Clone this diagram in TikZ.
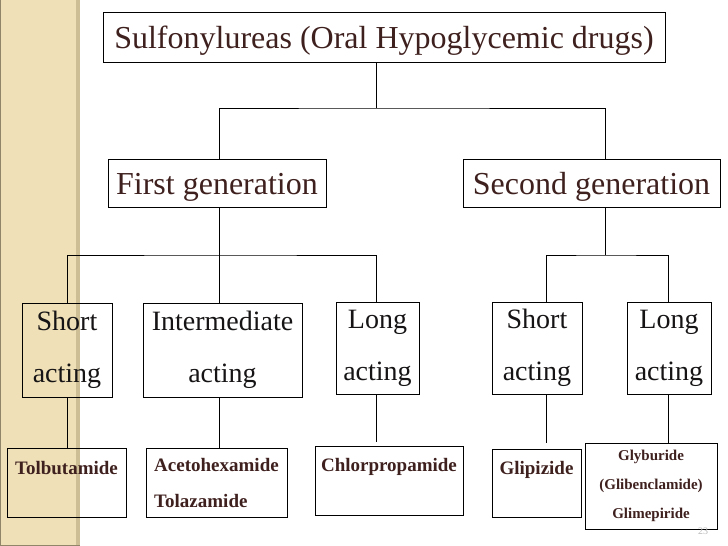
\documentclass[tikz,border=0pt]{standalone}
\usepackage{fontspec}
\setmainfont{Liberation Serif}
\usepackage{xcolor}
\definecolor{inkbrown}{RGB}{62,32,30}
\definecolor{inkblack}{RGB}{22,20,20}
\definecolor{stripbeige}{RGB}{239,224,184}
\definecolor{stripedge}{RGB}{206,190,150}

\begin{document}
\begin{tikzpicture}[
    x=1pt, y=-1pt,
    every node/.style={inner sep=0pt, outer sep=0pt},
    headbox/.style={draw, rectangle, line width=1pt, anchor=north west,
      text=inkbrown, font=\fontsize{32}{36}\selectfont},
    actbox/.style={draw, rectangle, line width=1pt, anchor=north west,
      align=center, text=inkblack, font=\fontsize{28}{52}\selectfont},
    drugbox/.style={draw, rectangle, line width=1pt, anchor=north west,
      align=left, text=inkbrown, font=\fontsize{19}{36}\selectfont\bfseries},
    link/.style={line width=1pt}
]
\useasboundingbox (0,0) rectangle (728,546);
\fill[stripbeige] (0,0) rectangle (80,546);
\fill[stripedge] (76,0) rectangle (80,546);
\draw[stripedge!70!black, line width=1pt] (0.5,0) -- (0.5,545.5) -- (80,545.5);

\node[headbox, minimum width=562pt, text height=36pt, text depth=14pt] (title) at (103,12) {Sulfonylureas (Oral Hypoglycemic drugs)};
\node[headbox, minimum width=218pt, text height=35pt, text depth=13pt] (first) at (108,159) {First generation};
\node[headbox, minimum width=257pt, text height=35pt, text depth=13pt] (second) at (463,159) {Second generation};

\node[actbox, minimum width=90pt, minimum height=94pt] (shortA) at (22,303) {Short\\acting};
\node[actbox, minimum width=159pt, minimum height=94pt] (interA) at (143,303) {Intermediate\\acting};
\node[actbox, minimum width=83pt, minimum height=92pt] (longA) at (336,302) {Long\\acting};
\node[actbox, minimum width=90pt, minimum height=92pt] (shortB) at (492,302) {Short\\acting};
\node[actbox, minimum width=84pt, minimum height=92pt] (longB) at (627,302) {Long\\acting};

\node[drugbox, minimum width=119pt, text height=26pt, text depth=43pt] (tolb) at (7,448) {Tolbutamide};
\node[drugbox, minimum width=141pt, minimum height=69pt] (aceto) at (146,448) {Acetohexamide\\Tolazamide};
\node[drugbox, minimum width=148pt, text height=25pt, text depth=44pt] (chlor) at (315,446) {Chlorpropamide};
\node[drugbox, minimum width=89pt, text height=25pt, text depth=43pt] (glip) at (492,449) {Glipizide};
\node[drugbox, align=center, font=\fontsize{15}{29}\selectfont\bfseries,
  minimum width=132pt, minimum height=86pt] (glyb) at (585,443) {Glyburide\\(Glibenclamide)\\Glimepiride};

\node[text=gray!55, font=\fontsize{10}{12}\selectfont] (pagenum) at (703,531) {23};

\coordinate (j0) at (376,108);
\coordinate (j1) at (219,255);
\coordinate (j2) at (605,255);
\coordinate (c1) at (67,0);
\coordinate (c3) at (376,0);
\coordinate (c4) at (546,0);
\coordinate (c5) at (668,0);

\draw[link] (title.south -| j0) -- (j0);
\draw[link] (first.north -| j1) |- (j0) -| (second.north -| j2);
\draw[link] (first.south -| j1) -- (j1);
\draw[link] (shortA.north -| c1) |- (j1) -| (longA.north -| c3);
\draw[link] (j1) -- (interA.north -| j1);
\draw[link] (second.south -| j2) -- (j2);
\draw[link] (shortB.north -| c4) |- (j2) -| (longB.north -| c5);
\draw[link] (shortA.south -| c1) -- (tolb.north -| c1);
\draw[link] (interA.south -| j1) -- (aceto.north -| j1);
\draw[link, shorten >=4pt] (longA.south -| c3) -- (chlor.north -| c3);
\draw[link, shorten >=6pt] (shortB.south -| c4) -- (glip.north -| c4);
\draw[link] (longB.south -| c5) -- (glyb.north -| c5);
\end{tikzpicture}
\end{document}
